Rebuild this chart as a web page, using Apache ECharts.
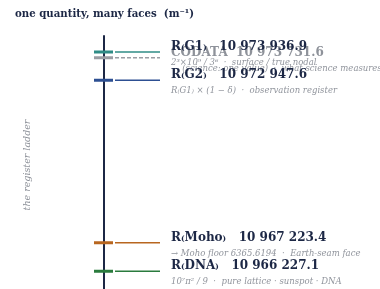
<!DOCTYPE html>
<html>
<head>
<meta charset="utf-8">
<script src="https://cdn.jsdelivr.net/npm/echarts@6/dist/echarts.min.js"></script>
<style>
  html, body { margin: 0; padding: 0; background: #fff; }
  #chart { width: 380px; height: 289px; }
</style>
</head>
<body>
<div id="chart"></div>
<script>
// the rungs, top to bottom
const names = ['R₍G1₎', 'CODATA', 'R₍G2₎', 'R₍Moho₎', 'R₍DNA₎'];
const values = [10973936.9, 10973731.6, 10972947.6, 10967223.4, 10966227.1];
const notes = [
  '2³×10⁹ / 3⁶  ·  surface / true nodal',
  '— (science: one value)  ·  what science measures',
  'R₍G1₎ × (1 − δ)  ·  observation register',
  '→ Moho floor 6365.6194  ·  Earth-seam face',
  '10⁷π² / 9  ·  pure lattice · sunspot · DNA'
];
const colors = ['#2f8c86', '#9a9da3', '#2d4f92', '#b8661f', '#2a7b3d'];
const dashed = [false, true, false, false, false];

const ink = '#1c2745';
const grey = '#8e929a';

function fmt(v) {
  const parts = v.toFixed(1).split('.');
  return parts[0].replace(/\B(?=(\d{3})+(?!\d))/g, ' ') + '.' + parts[1];
}

const chart = echarts.init(document.getElementById('chart'));

const series = [];
values.forEach((v, i) => {
  // short stub across the spine
  series.push({
    type: 'line', silent: true, symbol: 'none', z: 3,
    data: [[-10, v], [9, v]],
    lineStyle: { color: colors[i], width: 3 }
  });
  // leader out to the label
  series.push({
    type: 'line', silent: true, symbol: 'none', z: 3,
    data: [[11, v], [56, v]],
    lineStyle: { color: colors[i], width: 1.5, type: dashed[i] ? [4, 2] : 'solid' }
  });
});

// labels: CODATA first so the register labels sit on top of it
const order = [1, 0, 2, 3, 4];
order.forEach(i => {
  const main = i === 1 ? grey : ink;
  const gap = i === 1 ? '  ' : '   ';
  series.push({
    type: 'scatter', silent: true, symbolSize: 0.1, z: 5,
    itemStyle: { color: 'rgba(0,0,0,0)', opacity: 1 },
    data: [[67, values[i]]],
    label: {
      show: true, position: 'right', distance: 0, offset: [0, -5],
      formatter: names[i] + gap + fmt(values[i]),
      fontFamily: 'DejaVu Serif', fontWeight: 'bold', fontSize: 12, color: main
    }
  });
  series.push({
    type: 'scatter', silent: true, symbolSize: 0.1, z: 4,
    itemStyle: { color: 'rgba(0,0,0,0)', opacity: 1 },
    data: [[67, values[i]]],
    label: {
      show: true, position: 'right', distance: 0, offset: [0, 11],
      formatter: notes[i],
      fontFamily: 'DejaVu Serif', fontStyle: 'italic', fontSize: 8.5, color: '#90949c'
    }
  });
});

chart.setOption({
  backgroundColor: '#fff',
  animation: false,
  title: {
    text: 'one quantity, many faces  (m⁻¹)',
    left: 10, top: 4,
    textStyle: { fontFamily: 'DejaVu Serif', fontWeight: 'bold', fontSize: 10.2, color: ink }
  },
  graphic: [{
    type: 'text', x: 28, y: 165, rotation: Math.PI / 2,
    style: {
      text: 'the register ladder', align: 'center', verticalAlign: 'middle',
      fontFamily: 'DejaVu Serif', fontStyle: 'italic', fontSize: 9.5, fill: grey
    }
  }],
  grid: { left: 0, right: 0, top: 36, bottom: 0, outerBoundsMode: 'none', containLabel: false },
  xAxis: {
    type: 'value', min: -104, max: 276, show: false
  },
  yAxis: {
    type: 'value', min: 10965600, max: 10974500,
    axisLine: { show: true, onZero: true, lineStyle: { color: ink, width: 2 } },
    axisTick: { show: false },
    axisLabel: { show: false },
    splitLine: { show: false }
  },
  series: series
});
</script>
</body>
</html>
